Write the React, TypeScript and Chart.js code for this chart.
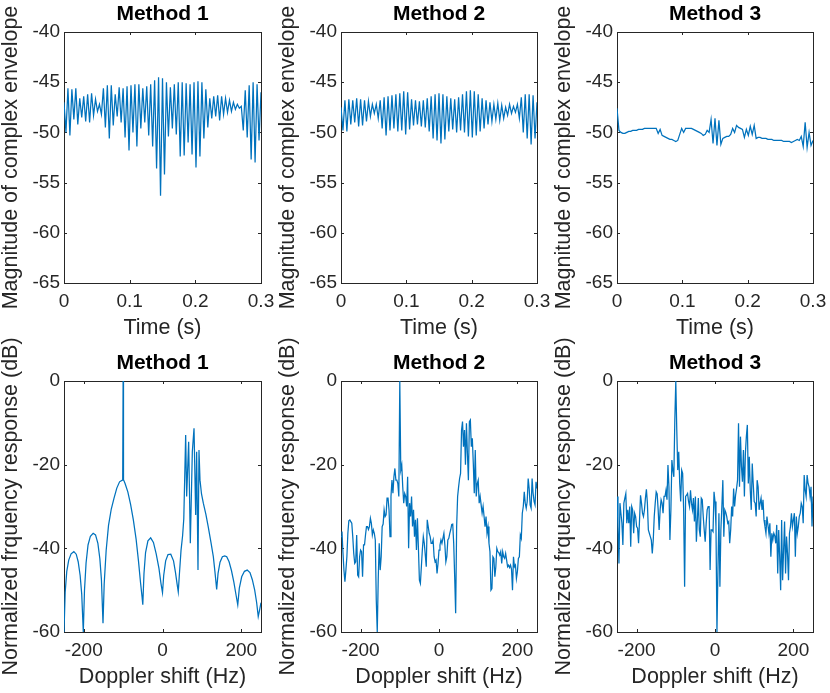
import React, { useEffect, useRef } from 'react';
import { Chart, registerables } from 'chart.js';

Chart.register(...registerables);

const FONT = '"Liberation Sans", Arial, Helvetica, sans-serif';
const LINE = '#0072BD';
const AXIS = '#262626';

// sample times of the envelope plots (s)
const timeS = [
  0, 0.003, 0.006, 0.009, 0.012, 0.015, 0.018, 0.021, 0.024, 0.027,
  0.03, 0.033, 0.036, 0.039, 0.042, 0.045, 0.048, 0.051, 0.054, 0.057,
  0.06, 0.063, 0.066, 0.069, 0.072, 0.075, 0.078, 0.081, 0.084, 0.087,
  0.09, 0.093, 0.096, 0.099, 0.102, 0.105, 0.108, 0.111, 0.114, 0.117,
  0.12, 0.123, 0.126, 0.129, 0.132, 0.135, 0.138, 0.141, 0.144, 0.147,
  0.15, 0.153, 0.156, 0.159, 0.162, 0.165, 0.168, 0.171, 0.174, 0.177,
  0.18, 0.183, 0.186, 0.189, 0.192, 0.195, 0.198, 0.201, 0.204, 0.207,
  0.21, 0.213, 0.216, 0.219, 0.222, 0.225, 0.228, 0.231, 0.234, 0.237,
  0.24, 0.243, 0.246, 0.249, 0.252, 0.255, 0.258, 0.261, 0.264, 0.267,
  0.27, 0.273, 0.276, 0.279, 0.282, 0.285, 0.288, 0.291, 0.294, 0.297,
  0.3,
];

// magnitude of complex envelope (dB)
const envMethod1 = [
  -47.0, -50.0, -45.6, -50.3, -45.7, -48.7, -45.6, -49.2, -46.6, -48.5,
  -46.4, -48.9, -46.2, -49.0, -46.1, -48.3, -46.7, -47.9, -47.2, -48.2,
  -45.6, -49.5, -45.3, -50.6, -45.3, -49.3, -46.2, -48.4, -45.5, -49.0,
  -45.6, -50.5, -45.4, -51.8, -45.3, -50.0, -45.2, -51.4, -45.2, -49.6,
  -45.6, -49.0, -45.4, -50.3, -45.2, -51.4, -44.8, -53.6, -44.5, -56.3,
  -44.6, -54.2, -45.0, -50.4, -45.5, -49.6, -45.2, -50.2, -45.0, -52.4,
  -45.0, -52.3, -45.1, -51.0, -45.2, -52.2, -45.0, -53.5, -44.9, -52.4,
  -45.0, -50.6, -45.7, -49.5, -46.6, -48.6, -46.4, -48.4, -46.3, -48.8,
  -46.4, -48.2, -46.6, -48.0, -46.8, -47.9, -47.0, -47.7, -47.2, -47.6,
  -47.4, -49.8, -45.8, -50.5, -45.3, -52.7, -45.0, -53.0, -45.2, -50.8,
  -46.0,
];

const envMethod2 = [
  -47.5, -49.8, -46.8, -49.9, -46.7, -49.2, -46.8, -49.0, -46.6, -49.4,
  -46.7, -49.3, -46.8, -48.9, -46.9, -48.4, -47.2, -48.1, -47.2, -48.6,
  -46.8, -49.6, -46.5, -50.3, -46.4, -49.8, -46.3, -49.6, -46.2, -49.9,
  -46.1, -49.8, -45.9, -50.2, -46.0, -49.7, -46.7, -49.3, -46.8, -49.2,
  -46.9, -49.4, -46.8, -49.5, -46.6, -49.9, -46.4, -50.6, -46.2, -50.8,
  -46.1, -51.1, -46.2, -50.7, -46.4, -49.9, -46.6, -49.7, -46.7, -50.0,
  -46.5, -49.8, -46.2, -50.0, -45.9, -50.4, -45.8, -50.5, -45.9, -50.3,
  -46.2, -49.9, -46.6, -49.6, -46.8, -49.2, -47.0, -48.9, -47.2, -48.7,
  -47.1, -48.8, -47.3, -48.6, -47.5, -48.3, -47.2, -48.1, -47.4, -48.0,
  -47.2, -48.6, -46.5, -50.0, -46.2, -50.6, -46.2, -51.2, -46.3, -50.6,
  -47.0,
];

const envMethod3 = [
  -47.6, -49.8, -50.0, -50.1, -50.1, -50.0, -49.9, -49.9, -49.8, -49.8,
  -49.8, -49.7, -49.7, -49.7, -49.6, -49.6, -49.6, -49.6, -49.6, -49.6,
  -49.6, -50.1, -49.7, -50.3, -50.4, -50.5, -50.6, -50.7, -50.7, -50.8,
  -50.9, -50.8, -50.2, -49.6, -50.0, -49.6, -49.6, -49.6, -49.6, -49.7,
  -49.8, -49.9, -50.0, -50.1, -50.3, -50.2, -49.8, -50.0, -48.7, -51.1,
  -48.6, -51.3, -48.8, -51.2, -50.6, -50.5, -50.4, -50.4, -50.2, -49.6,
  -50.0, -49.3, -49.5, -49.6, -49.7, -50.5, -49.7, -50.3, -49.4, -50.2,
  -49.3, -50.6, -50.5, -50.5, -50.6, -50.6, -50.6, -50.7, -50.7, -50.7,
  -50.8, -50.8, -50.8, -50.8, -50.8, -50.9, -50.9, -50.9, -50.9, -51.0,
  -50.9, -50.8, -50.7, -50.8, -50.4, -51.4, -49.0, -51.5, -50.0, -51.3,
  -50.8,
];

// doppler grid of methods 2 and 3 (Hz)
const dopplerHz = [
  -250, -247.5, -245, -242.5, -240, -237.5, -235, -232.5, -230, -227.5,
  -225, -222.5, -220, -217.5, -215, -212.5, -210, -207.5, -205, -202.5,
  -200, -197.5, -195, -192.5, -190, -187.5, -185, -182.5, -180, -177.5,
  -175, -172.5, -170, -167.5, -165, -162.5, -160, -157.5, -155, -152.5,
  -150, -147.5, -145, -142.5, -140, -137.5, -135, -132.5, -130, -127.5,
  -125, -122.5, -120, -117.5, -115, -112.5, -110, -107.5, -105, -102.5,
  -100, -97.5, -95, -92.5, -90, -87.5, -85, -82.5, -80, -77.5,
  -75, -72.5, -70, -67.5, -65, -62.5, -60, -57.5, -55, -52.5,
  -50, -47.5, -45, -42.5, -40, -37.5, -35, -32.5, -30, -27.5,
  -25, -22.5, -20, -17.5, -15, -12.5, -10, -7.5, -5, -2.5,
  0, 2.5, 5, 7.5, 10, 12.5, 15, 17.5, 20, 22.5,
  25, 27.5, 30, 32.5, 35, 37.5, 40, 42.5, 45, 47.5,
  50, 52.5, 55, 57.5, 60, 62.5, 65, 67.5, 70, 72.5,
  75, 77.5, 80, 82.5, 85, 87.5, 90, 92.5, 95, 97.5,
  100, 102.5, 105, 107.5, 110, 112.5, 115, 117.5, 120, 122.5,
  125, 127.5, 130, 132.5, 135, 137.5, 140, 142.5, 145, 147.5,
  150, 152.5, 155, 157.5, 160, 162.5, 165, 167.5, 170, 172.5,
  175, 177.5, 180, 182.5, 185, 187.5, 190, 192.5, 195, 197.5,
  200, 202.5, 205, 207.5, 210, 212.5, 215, 217.5, 220, 222.5,
  225, 227.5, 230, 232.5, 235, 237.5, 240, 242.5, 245, 247.5,
  250,
];

// normalized frequency response (dB)
const respMethod1Hz = [
  -250, -247, -243, -238, -232, -225, -219, -214, -209, -205,
  -201, -198, -194, -189, -183, -176, -170, -164, -159, -155,
  -151, -148, -143, -137, -130, -123, -116, -109, -102, -101,
  -100, -99, -95, -88, -81, -74, -67, -61, -56, -52,
  -50, -47, -43, -37, -30, -23, -16, -9, -4, 0,
  3, 8, 14, 21, 28, 33, 37, 40, 43, 47,
  51, 54, 58.8, 61.3, 66.4, 70.6, 75.7, 80, 84.2, 86.7,
  90.1, 92.6, 95.2, 99, 103.6, 110, 116, 123, 129, 133,
  137.5, 141, 146, 152, 158, 163, 169, 175, 181, 186,
  191, 195, 201, 208, 215, 222, 228, 234, 239, 243,
  247, 250,
];
const respMethod1 = [
  -60, -50.5, -45.5, -42.8, -41.3, -40.8, -41.4, -43.2, -46.5, -51,
  -60, -50, -43.5, -39.2, -37.1, -36.4, -36.8, -38.8, -42.5, -47.5,
  -57.9, -48.5, -40.5, -34.5, -30.6, -28, -25.6, -24.1, -23.7, -23.6,
  0, -23.6, -24.5, -26.5, -29.5, -33.2, -37.8, -43, -48, -51.5,
  -53.5, -46, -41, -38.2, -37.5, -38.6, -41.3, -44.8, -48.3, -50.6,
  -46.5, -43, -41.5, -41.4, -43, -45.8, -48.5, -50.4, -46, -40.5,
  -37, -33, -12.9, -27.6, -14.5, -38.8, -16.9, -11.3, -32, -16.9,
  -45.2, -16.5, -23.7, -27, -29.2, -31.8, -34.8, -38.6, -42, -45.5,
  -49.8, -46, -43.3, -42, -41.8, -42, -43.2, -45.3, -48, -50.8,
  -53.5, -49.5, -46.8, -45.5, -45.2, -45.8, -47.5, -50, -53, -56.3,
  -54.5, -53,
];

const respMethod2 = [
  -37.2, -36.0, -41.0, -45.2, -48.0, -45.2, -42.0, -36.4, -33.4, -33.2,
  -33.6, -34.0, -37.2, -41.2, -43.6, -43.2, -36.8, -46.4, -46.8, -42.0,
  -40.4, -40.8, -46.8, -39.2, -39.2, -36.8, -34.8, -34.8, -35.5, -34.8,
  -32.8, -34.0, -36.8, -35.6, -36.4, -38.0, -52.4, -60.0, -47.2, -38.8,
  -45.2, -42.0, -34.8, -34.2, -30.8, -32.4, -32.0, -28.0, -28.0, -30.8,
  -37.2, -27.6, -23.7, -26.8, -22.9, -20.9, -23.7, -23.7, -24.5, -27.6,
  0, -21.3, -20.1, -25.3, -29.2, -26.9, -27.6, -30.0, -22.9, -40.0,
  -29.2, -32.4, -27.6, -34.8, -30.8, -37.2, -33.2, -40.4, -32.8, -40.0,
  -47.6, -48.4, -44.4, -40.4, -37.2, -38.8, -41.6, -44.4, -33.2, -34.8,
  -36.4, -37.2, -38.8, -38.8, -38.0, -42.0, -43.2, -42.8, -46.0, -43.6,
  -40.4, -39.2, -38.0, -38.8, -37.6, -36.4, -39.2, -43.2, -42.0, -38.0,
  -37.6, -36.4, -35.5, -34.3, -34.2, -38.8, -46.8, -55.5, -34.8, -27.6,
  -25.3, -23.3, -22.1, -11.7, -9.7, -15.7, -11.7, -20.0, -10.1, -17.3,
  -23.7, -9.7, -9.3, -15.7, -13.7, -19.7, -26.8, -16.5, -27.6, -24.5,
  -23.7, -29.2, -27.6, -29.6, -31.6, -30.0, -32.4, -34.8, -32.4, -36.4,
  -34.8, -38.8, -40.8, -50.0, -49.6, -42.0, -42.4, -46.8, -44.4, -40.0,
  -40.8, -41.0, -41.6, -40.8, -43.6, -40.8, -42.0, -42.4, -41.2, -42.8,
  -44.4, -44.0, -44.6, -44.0, -45.0, -50.0, -42.0, -44.4, -44.0, -47.2,
  -45.6, -42.4, -42.0, -36.8, -37.6, -31.6, -30.0, -26.5, -29.2, -30.4,
  -28.8, -23.3, -25.7, -29.6, -30.4, -23.3, -26.8, -28.8, -29.6, -24.1,
  -25.7,
];

const respMethod3 = [
  -27.6, -34.8, -43.6, -29.2, -31.6, -34.0, -39.2, -29.2, -28.0, -26.9,
  -34.0, -30.8, -34.0, -30.0, -39.6, -30.0, -30.8, -36.4, -31.6, -32.4,
  -34.8, -35.2, -38.8, -33.2, -27.3, -29.2, -31.6, -32.4, -30.8, -28.0,
  -25.9, -29.2, -35.6, -36.4, -37.2, -38.0, -41.2, -38.0, -32.4, -29.2,
  -26.5, -27.0, -30.8, -35.6, -30.8, -28.4, -29.2, -31.6, -27.6, -27.6,
  -26.1, -28.4, -20.1, -25.3, -38.0, -30.8, -18.9, -21.3, -22.9, -9.3,
  0, -11.7, -21.3, -16.9, -24.5, -28.8, -21.3, -22.1, -30.8, -49.2,
  -27.6, -27.3, -26.9, -28.8, -30.0, -26.1, -29.2, -30.8, -28.0, -33.6,
  -27.6, -38.4, -33.2, -28.0, -35.6, -37.2, -28.0, -28.4, -32.4, -35.6,
  -38.4, -34.0, -30.8, -30.0, -30.0, -45.2, -35.6, -35.6, -36.0, -26.5,
  -28.8, -34.8, -60.0, -45.2, -31.6, -49.2, -35.6, -30.0, -23.7, -37.2,
  -30.8, -31.4, -32.4, -34.0, -33.6, -38.8, -35.6, -30.0, -32.4, -25.7,
  -30.0, -27.3, -25.7, -23.7, -10.1, -25.3, -13.3, -20.5, -24.1, -16.5,
  -27.6, -17.3, -13.3, -10.5, -24.5, -18.1, -26.1, -30.8, -19.7, -24.5,
  -28.8, -29.2, -32.4, -23.7, -25.3, -30.8, -29.2, -28.0, -30.8, -28.4,
  -33.2, -34.8, -36.4, -32.4, -34.4, -36.4, -34.0, -42.0, -36.4, -38.0,
  -36.4, -37.0, -38.8, -34.4, -46.0, -35.6, -42.0, -50.0, -33.2, -47.6,
  -40.4, -33.6, -46.0, -37.2, -41.2, -47.6, -36.4, -34.8, -31.6, -34.8,
  -33.2, -31.6, -42.0, -32.4, -36.4, -34.8, -32.4, -31.6, -29.2, -30.0,
  -34.0, -22.5, -26.1, -27.6, -22.5, -24.5, -25.3, -27.6, -25.3, -34.8,
  -27.6,
];

const timeTicks = [0, 0.1, 0.2, 0.3];
const envTicks = [-65, -60, -55, -50, -45, -40];
const dopplerTicks = [-200, 0, 200];
const respTicks = [-60, -40, -20, 0];

// box with inward ticks on all four sides, and the bold title above it
const matlabFrame = {
  id: 'matlabFrame',
  beforeDatasetsDraw(chart: any, _args: any, opts: any) {
    const { ctx, chartArea: a, scales } = chart;
    const tl = 3;
    ctx.save();
    ctx.strokeStyle = AXIS;
    ctx.lineWidth = 1;
    ctx.strokeRect(a.left + 0.5, a.top + 0.5, a.right - a.left, a.bottom - a.top);
    ctx.beginPath();
    scales.x.ticks.forEach((t: any) => {
      const px = Math.round(scales.x.getPixelForValue(t.value)) + 0.5;
      ctx.moveTo(px, a.bottom);
      ctx.lineTo(px, a.bottom - tl);
      ctx.moveTo(px, a.top);
      ctx.lineTo(px, a.top + tl);
    });
    scales.y.ticks.forEach((t: any) => {
      const py = Math.round(scales.y.getPixelForValue(t.value)) + 0.5;
      ctx.moveTo(a.left, py);
      ctx.lineTo(a.left + tl, py);
      ctx.moveTo(a.right, py);
      ctx.lineTo(a.right - tl, py);
    });
    ctx.stroke();
    ctx.fillStyle = '#000';
    ctx.font = `bold 21px ${FONT}`;
    ctx.textAlign = 'center';
    ctx.textBaseline = 'middle';
    ctx.fillText(opts.title, (a.left + a.right) / 2, a.top - 17.5);
    ctx.restore();
  },
};

type PanelProps = {
  title: string;
  xs: number[];
  ys: number[];
  xMin: number;
  xMax: number;
  xTicks: number[];
  yMin: number;
  yMax: number;
  yTicks: number[];
  xLabel: string;
  yLabel: string;
  areaLeft: number;
  areaWidth: number;
  canvasTop: number;
  padTop: number;
};

const AREA_H = 251;
const Y_AXIS_W = 64;
const X_AXIS_H = 60;
const PAD_RIGHT = 28;

const Panel = (p: PanelProps) => {
  const ref = useRef<HTMLCanvasElement>(null);
  const w = Y_AXIS_W + p.areaWidth + PAD_RIGHT;
  const h = p.padTop + AREA_H + X_AXIS_H;

  useEffect(() => {
    if (!ref.current) return;
    const chart = new Chart(ref.current, {
      type: 'line',
      data: {
        datasets: [
          {
            data: p.xs.map((x, i) => ({ x, y: p.ys[i] })),
            borderColor: LINE,
            borderWidth: 1.25,
            pointRadius: 0,
            tension: 0,
            fill: false,
          },
        ],
      },
      options: {
        responsive: false,
        animation: false,
        events: [],
        layout: { padding: { top: p.padTop, right: PAD_RIGHT, left: 0, bottom: 0 } },
        plugins: {
          legend: { display: false },
          tooltip: { enabled: false },
          title: { display: false },
          matlabFrame: { title: p.title },
        } as any,
        scales: {
          x: {
            type: 'linear',
            min: p.xMin,
            max: p.xMax,
            grid: { display: false, drawTicks: false },
            border: { display: false },
            afterBuildTicks: (s: any) => {
              s.ticks = p.xTicks.map((value) => ({ value }));
            },
            afterFit: (s: any) => {
              s.height = X_AXIS_H;
            },
            ticks: {
              color: AXIS,
              font: { family: FONT, size: 19 },
              padding: 7,
              maxRotation: 0,
              autoSkip: false,
              callback: (v: any) => String(v),
            },
            title: {
              display: true,
              text: p.xLabel,
              color: AXIS,
              font: { family: FONT, size: 21.5, lineHeight: 1 },
              padding: { top: 0, bottom: 4 },
            },
          },
          y: {
            type: 'linear',
            min: p.yMin,
            max: p.yMax,
            grid: { display: false, drawTicks: false },
            border: { display: false },
            afterBuildTicks: (s: any) => {
              s.ticks = p.yTicks.map((value) => ({ value }));
            },
            afterFit: (s: any) => {
              s.width = Y_AXIS_W;
            },
            ticks: {
              color: AXIS,
              font: { family: FONT, size: 19 },
              padding: 4,
              autoSkip: false,
              callback: (v: any) => String(v),
            },
            title: {
              display: true,
              text: p.yLabel,
              color: AXIS,
              font: { family: FONT, size: 21.5, lineHeight: 1 },
              padding: { top: 0.3, bottom: 0 },
            },
          },
        },
      },
      plugins: [matlabFrame],
    });
    return () => {
      chart.destroy();
    };
  }, []);

  return (
    <canvas
      ref={ref}
      width={w}
      height={h}
      style={{
        position: 'absolute',
        left: p.areaLeft - Y_AXIS_W,
        top: p.canvasTop,
        width: w,
        height: h,
      }}
    />
  );
};

const columns = [
  { left: 64, width: 197 },
  { left: 341, width: 196 },
  { left: 617, width: 196 },
];

const App = () => {
  const envData = [envMethod1, envMethod2, envMethod3];
  const respX = [respMethod1Hz, dopplerHz, dopplerHz];
  const respY = [respMethod1, respMethod2, respMethod3];

  return (
    <div style={{ position: 'absolute', left: 0, top: 0, width: 830, height: 693, background: '#fff' }}>
      {columns.map((c, i) => (
        <Panel
          key={'env' + i}
          title={`Method ${i + 1}`}
          xs={timeS}
          ys={envData[i]}
          xMin={0}
          xMax={0.3}
          xTicks={timeTicks}
          yMin={-65}
          yMax={-40}
          yTicks={envTicks}
          xLabel="Time (s)"
          yLabel="Magnitude of complex envelope"
          areaLeft={c.left}
          areaWidth={c.width}
          canvasTop={0}
          padTop={32}
        />
      ))}
      {columns.map((c, i) => (
        <Panel
          key={'resp' + i}
          title={`Method ${i + 1}`}
          xs={respX[i]}
          ys={respY[i]}
          xMin={-250}
          xMax={250}
          xTicks={dopplerTicks}
          yMin={-60}
          yMax={0}
          yTicks={respTicks}
          xLabel="Doppler shift (Hz)"
          yLabel="Normalized frquency response (dB)"
          areaLeft={c.left}
          areaWidth={c.width}
          canvasTop={331}
          padTop={50}
        />
      ))}
    </div>
  );
};

export default App;
